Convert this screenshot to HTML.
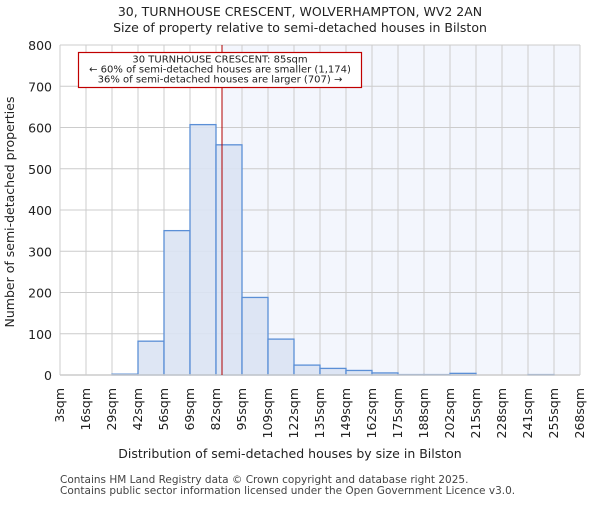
<!DOCTYPE html>
<html><head><meta charset="utf-8"><style>
body{margin:0;background:#fff}
svg text{font-family:"DejaVu Sans","Liberation Sans",sans-serif}
</style></head><body>
<svg id="c" width="600" height="500" xmlns="http://www.w3.org/2000/svg">
<text x="300" y="16" text-anchor="middle" font-size="12.5" fill="#222">30, TURNHOUSE CRESCENT, WOLVERHAMPTON, WV2 2AN</text>
<text x="300" y="32" text-anchor="middle" font-size="12.5" fill="#222">Size of property relative to semi-detached houses in Bilston</text>
<g id="plot"></g>
<text x="290" y="458" text-anchor="middle" font-size="12.5" fill="#222">Distribution of semi-detached houses by size in Bilston</text>
<text transform="translate(14,212) rotate(-90)" text-anchor="middle" font-size="12.5" fill="#222">Number of semi-detached properties</text>
<text x="60" y="483" font-size="10.5" fill="#444">Contains HM Land Registry data © Crown copyright and database right 2025.</text>
<text x="60" y="494" font-size="10.5" fill="#444">Contains public sector information licensed under the Open Government Licence v3.0.</text>
</svg>
<script>
const binLabels=["3sqm","16sqm","29sqm","42sqm","56sqm","69sqm","82sqm","95sqm","109sqm","122sqm","135sqm","149sqm","162sqm","175sqm","188sqm","202sqm","215sqm","228sqm","241sqm","255sqm","268sqm"];
const binEdges=[3,16,29,42,56,69,82,95,109,122,135,149,162,175,188,202,215,228,241,255,268];
const counts=[0,0,2,82,350,607,558,188,87,24,16,11,5,1,1,4,0,0,1,0];
const yTicks=[0,100,200,300,400,500,600,700,800];
const propertySize=85;
const NS="http://www.w3.org/2000/svg";
const L=60,R=580,T=45,B=375,yMax=800;
const nb=counts.length;
const xi=i=>L+(R-L)*i/nb;
function xv(v){let i=0;while(i<nb-1&&v>binEdges[i+1])i++;return xi(i)+(xi(i+1)-xi(i))*(v-binEdges[i])/(binEdges[i+1]-binEdges[i]);}
const y=v=>B-(B-T)*v/yMax;
const g=document.getElementById('plot');
function mk(t,a){const e=document.createElementNS(NS,t);for(const k in a)e.setAttribute(k,a[k]);g.appendChild(e);return e;}
const px=xv(propertySize);
let e=mk('rect',{x:px,y:T,width:R-px,height:B-T,fill:'#f3f6fd'});


for(let i=0;i<=nb;i++){e=mk('line',{x1:xi(i),x2:xi(i),y1:T,y2:B,stroke:'#cccccc','stroke-width':1});

}
yTicks.forEach(t=>{e=mk('line',{x1:L,x2:R,y1:y(t),y2:y(t),stroke:'#cccccc','stroke-width':1});


e=mk('text',{x:L-8,y:y(t)+5,'text-anchor':'end','font-size':12.5,fill:'#222'});e.textContent=t;

});
counts.forEach((c,i)=>{if(c<=0)return;e=mk('rect',{x:xi(i),y:y(c),width:xi(i+1)-xi(i),height:B-y(c),fill:'#dae3f3','fill-opacity':0.9,stroke:'#5b8fd6','stroke-width':1.3});

});
e=mk('line',{x1:L,x2:R,y1:B,y2:B,stroke:'#cccccc','stroke-width':1.5});


binLabels.forEach((l,i)=>{e=mk('text',{transform:`translate(${xi(i)+4},388) rotate(-90)`,'text-anchor':'end','font-size':12.5,fill:'#222'});e.textContent=l;

});
e=mk('line',{x1:px,x2:px,y1:T,y2:B,stroke:'#b00000','stroke-width':1});


e=mk('rect',{x:78.5,y:52.5,width:283,height:35,fill:'#fff',stroke:'#c00000','stroke-width':1.2});


["30 TURNHOUSE CRESCENT: 85sqm","← 60% of semi-detached houses are smaller (1,174)","36% of semi-detached houses are larger (707) →"].forEach((s,k)=>{
e=mk('text',{x:220,y:62.5+k*10,'text-anchor':'middle','font-size':10,fill:'#222'});e.textContent=s;

});
</script>
</body></html>
